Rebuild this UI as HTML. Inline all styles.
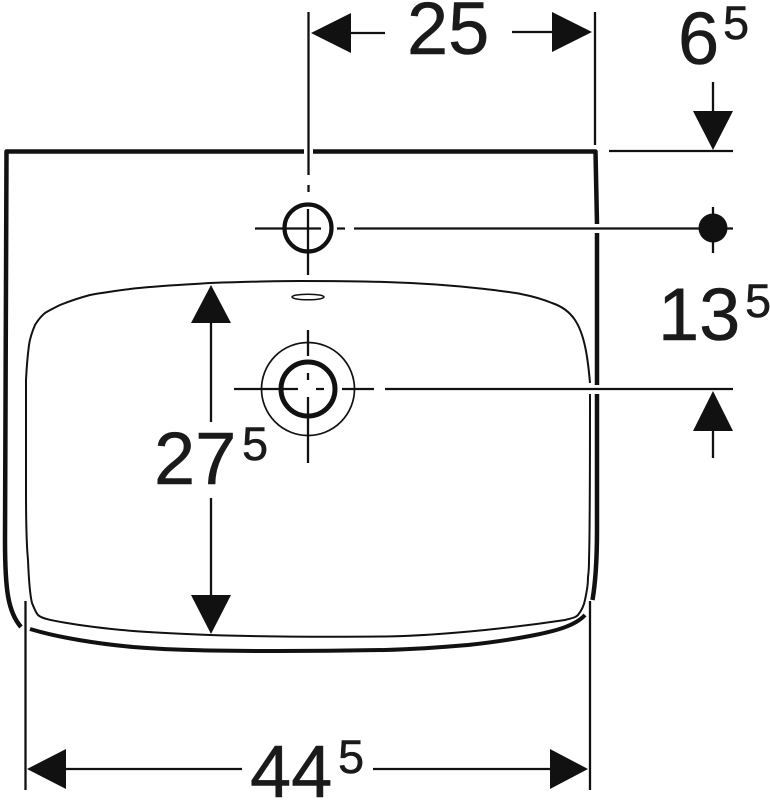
<!DOCTYPE html>
<html><head><meta charset="utf-8"><style>html,body{margin:0;padding:0;background:#fff}svg{display:block}text{font-family:"Liberation Sans",sans-serif;fill:#1a1a1a;stroke:#1a1a1a;stroke-width:.5px}</style></head><body>
<svg width="770" height="800" viewBox="0 0 770 800" xmlns="http://www.w3.org/2000/svg">
<rect width="770" height="800" fill="#fff"/>
<g fill="none" stroke="#111" stroke-linejoin="round">
<path stroke-width="4.5" d="M304 151.500H6.500C6 300 4.500 430 5 540C5 590 8 612 21 627"/>
<path stroke-width="4.5" d="M313 151.500H595.500L597 224"/>
<path stroke-width="4.5" d="M597 233V385"/>
<path stroke-width="4.5" d="M597 394V530C597 565 595 585 592.500 600"/>
<path stroke-width="4" d="M30 629C60 638 100 644 133 647C170 650 190 650 210 650.500C270 651.500 330 651 385 650C420 649 445 647 468 645C495 642 515 639 535 635C555 631 575 626 585 615"/>
<path stroke-width="2" d="M590 383C588 360 585 335 575 320C567 308 555 304 552 303C530 294 510 292 485 289C450 285 420 283 385 282C350 281 330 281 300 281C270 281 240 282 210 283C180 285 155 286 130 289C115 291 100 293 90 295C75 299 65 303 60 305C52 309 48 311 45 313C39 318 37 322 35 325C32 332 30 338 29 345C27 360 26.500 370 26 380C26 400 26 450 26 490C26 530 27 550 28 560C29 585 30 595 32 603C34 608 36 613 38 615C42 619 55 621 67 623C90 627 110 629 133 631C160 633 185 634 210 635C270 637 330 637 385 636.500C420 636 455 633 485 630C515 627 545 623 565 620C572 618 575 618 578 615C582 610 584 605 585 600C587 590 588 585 588 577C589 570 589 565 589 560C590 530 590 470 590 394"/>
<ellipse cx="308" cy="297" rx="16" ry="2.800" stroke-width="1.500"/>
<circle cx="308" cy="228" r="23.500" stroke-width="4.200"/>
<circle cx="308" cy="389" r="27" stroke-width="5"/>
<circle cx="308" cy="389" r="46.500" stroke-width="1.700"/>
<g stroke-width="2.300">
<path d="M308.500 12V175M308.500 185V192M308 209V275M255 228.500H321M337 228.500H345M354 228.500H733"/>
<path d="M308 330V356M308 373V380M308 397V463M234 389H298M316 389H324M342 389H374M385 389H733"/>
<path d="M595 12V145M609 151H733M713 82V111M713 207V253M713 431V458"/>
<path d="M351 33H385M512 32H552M211 323V422M211 498V595"/>
<path d="M25.500 601V790M590 601V790M66 769H242M373 769H550"/>
</g>
</g>
<g fill="#111">
<circle cx="713" cy="228" r="14.500"/>
<path d="M311 33L351 13V53Z"/>
<path d="M592 32L552 12V52Z"/>
<path d="M713 150L693 111H733Z"/>
<path d="M713 391L693 431H733Z"/>
<path d="M211 285L191 323H231Z"/>
<path d="M211 634L191 595H231Z"/>
<path d="M27 769L66 749V789Z"/>
<path d="M588 769L550 749V789Z"/>
</g>
<g font-size="74">
<text x="407" y="54">25</text>
<text x="678" y="64">6</text>
<text x="658" y="340">13</text>
<text x="154" y="484">27</text>
<text x="250" y="797">44</text>
</g>
<g font-size="47">
<text x="723" y="39">5</text>
<text x="745" y="317">5</text>
<text x="242" y="460">5</text>
<text x="338" y="773">5</text>
</g>
</svg>
</body></html>
